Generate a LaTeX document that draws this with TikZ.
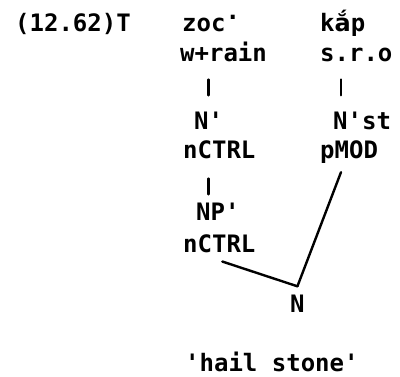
\documentclass[tikz,border=0pt]{standalone}
\usepackage{fontspec}
\setmonofont{DejaVu Sans Mono}
\newfontfamily\vnfont{DejaVu Sans}
\begin{document}
\begin{tikzpicture}[x=1pt, y=-1pt,
  lbl/.style={anchor=base west, inner sep=0pt, font=\ttfamily\bfseries\fontsize{24}{28}\selectfont},
  branch/.style={line width=2.4pt, line cap=round}]
  \useasboundingbox (0,0) rectangle (400,377);
  % example number
  \node[lbl] (ex) at (15,32) {(12.62)T};
  % left word
  \node[lbl] (zoc) at (182,32) {zoc\raisebox{0.5em}{.}};
  \node[lbl] (wrain) at (180,62) {w+rain};
  \node[lbl] (nbar) at (194,130) {N'};
  \node[lbl] (nctrla) at (183,159) {nCTRL};
  \node[lbl] (npbar) at (196,221) {NP'};
  \node[lbl] (nctrlb) at (183,253) {nCTRL};
  % right word
  \node[lbl] (kap) at (320,32) {k{\vnfont ắ}p};
  \node[lbl] (sro) at (320,62) {s.r.o};
  \node[lbl] (nst) at (333,130) {N'st};
  \node[lbl] (pmod) at (320,159) {pMOD};
  % compound
  \node[lbl] (nn) at (290,313) {N};
  \node[lbl] (gloss) at (185,372) {'hail stone'};
  % branches
  \draw[branch, shorten <=17pt, shorten >=17pt] (wrain.south -| nbar.north) -- (nbar.north);
  \draw[branch, shorten <=17pt, shorten >=17pt] ([xshift=8pt]nst.north west |- sro.south) -- ([xshift=8pt]nst.north west);
  \draw[branch, shorten <=19pt, shorten >=9pt] (nbar.north |- nctrla.south) -- (nbar.north |- npbar.north);
  \draw[branch] ([xshift=21pt,yshift=-8pt]pmod.south west) -- ([yshift=9pt]nn.north);
  \draw[branch] ([xshift=3pt,yshift=-8pt]nctrlb.south) -- ([yshift=9pt]nn.north);
\end{tikzpicture}
\end{document}
